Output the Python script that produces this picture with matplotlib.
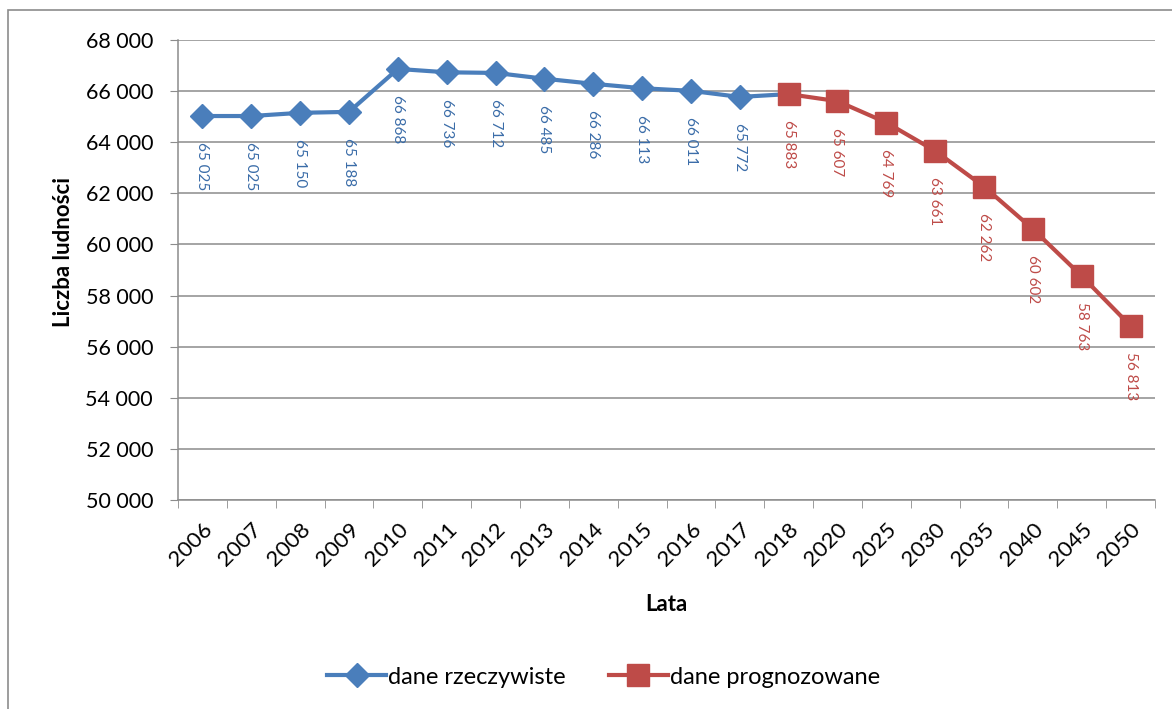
import matplotlib
matplotlib.use('Agg')
import matplotlib.pyplot as plt
from matplotlib.patches import Rectangle
from matplotlib.ticker import FuncFormatter, FixedLocator

# -------------------- Data --------------------
years = ['2006', '2007', '2008', '2009', '2010', '2011', '2012', '2013', '2014', '2015',
         '2016', '2017', '2018', '2020', '2025', '2030', '2035', '2040', '2045', '2050']
actual = [65025, 65025, 65150, 65188, 66868, 66736, 66712, 66485, 66286, 66113, 66011, 65772]
forecast = [65883, 65607, 64769, 63661, 62262, 60602, 58763, 56813]

BLUE = '#4A7EBB'
BLUE_TXT = '#3A6CA8'
RED = '#BE4B48'
GRID = '#8C8C8C'

plt.rcParams['font.family'] = ['Lato', 'DejaVu Sans']

fig = plt.figure(figsize=(11.72, 7.09), dpi=100)
fig.patches.append(Rectangle((8 / 1172, -0.1), 1.2, 1 - 10 / 709 + 0.1,
                             transform=fig.transFigure, fill=False,
                             edgecolor='#8C8C8C', linewidth=1.2))
ax = fig.add_axes([178 / 1172, 1 - 500 / 709, (1155 - 178) / 1172, 460 / 709])

x = list(range(len(years)))
n_act = len(actual)
x_act = x[:n_act]
x_fc = x[n_act:]   # forecast starts at 2018, the actual line runs into it

ax.plot(x_act + [x_fc[0]], actual + [forecast[0]], color=BLUE, lw=3,
        marker='D', ms=12, markevery=list(range(n_act)), zorder=4,
        label='dane rzeczywiste')
ax.plot(x_fc, forecast, color=RED, lw=3, marker='s', ms=15.5, zorder=5,
        label='dane prognozowane')

def fmt(v):
    return f'{v:,}'.replace(',', ' ')

for xi, v in zip(x_act, actual):
    ax.annotate(fmt(v), (xi, v), xytext=(0, -19), textcoords='offset points',
                rotation=270, ha='center', va='top', fontsize=11, color=BLUE_TXT)
for xi, v in zip(x_fc, forecast):
    ax.annotate(fmt(v), (xi, v), xytext=(0, -19), textcoords='offset points',
                rotation=270, ha='center', va='top', fontsize=11, color=RED)

ax.set_xlim(-0.5, len(years) - 0.5)
ax.set_ylim(50000, 68000)
ax.set_yticks(range(50000, 68001, 2000))
ax.yaxis.set_major_formatter(FuncFormatter(lambda v, p: fmt(int(v))))
ax.set_xticks(x)
ax.set_xticklabels(years, rotation=45, ha='right', rotation_mode='anchor', fontsize=16)
ax.xaxis.set_minor_locator(FixedLocator([i - 0.5 for i in range(len(years) + 1)]))
ax.tick_params(axis='x', which='major', length=0, pad=14)
ax.tick_params(axis='x', which='minor', length=6, color=GRID, direction='out')
ax.tick_params(axis='y', length=6, color=GRID, labelsize=15.5, pad=12)

ax.grid(axis='y', color=GRID, lw=1.1)
ax.set_axisbelow(True)
for s in ['top', 'right']:
    ax.spines[s].set_visible(False)
for s in ['left', 'bottom']:
    ax.spines[s].set_color(GRID)
    ax.spines[s].set_linewidth(1.1)

ax.set_ylabel('Liczba ludności', fontsize=16, fontweight='bold')
ax.yaxis.set_label_coords(-0.106, 0.54)
ax.set_xlabel('Lata', fontsize=16, fontweight='bold', labelpad=17)

fig.legend(loc='center', bbox_to_anchor=(0.515, 1 - 677 / 709), ncol=2, frameon=False,
           fontsize=17, handlelength=2.5, columnspacing=1.8, handletextpad=0.1)

fig.savefig('out.png', dpi=100)
